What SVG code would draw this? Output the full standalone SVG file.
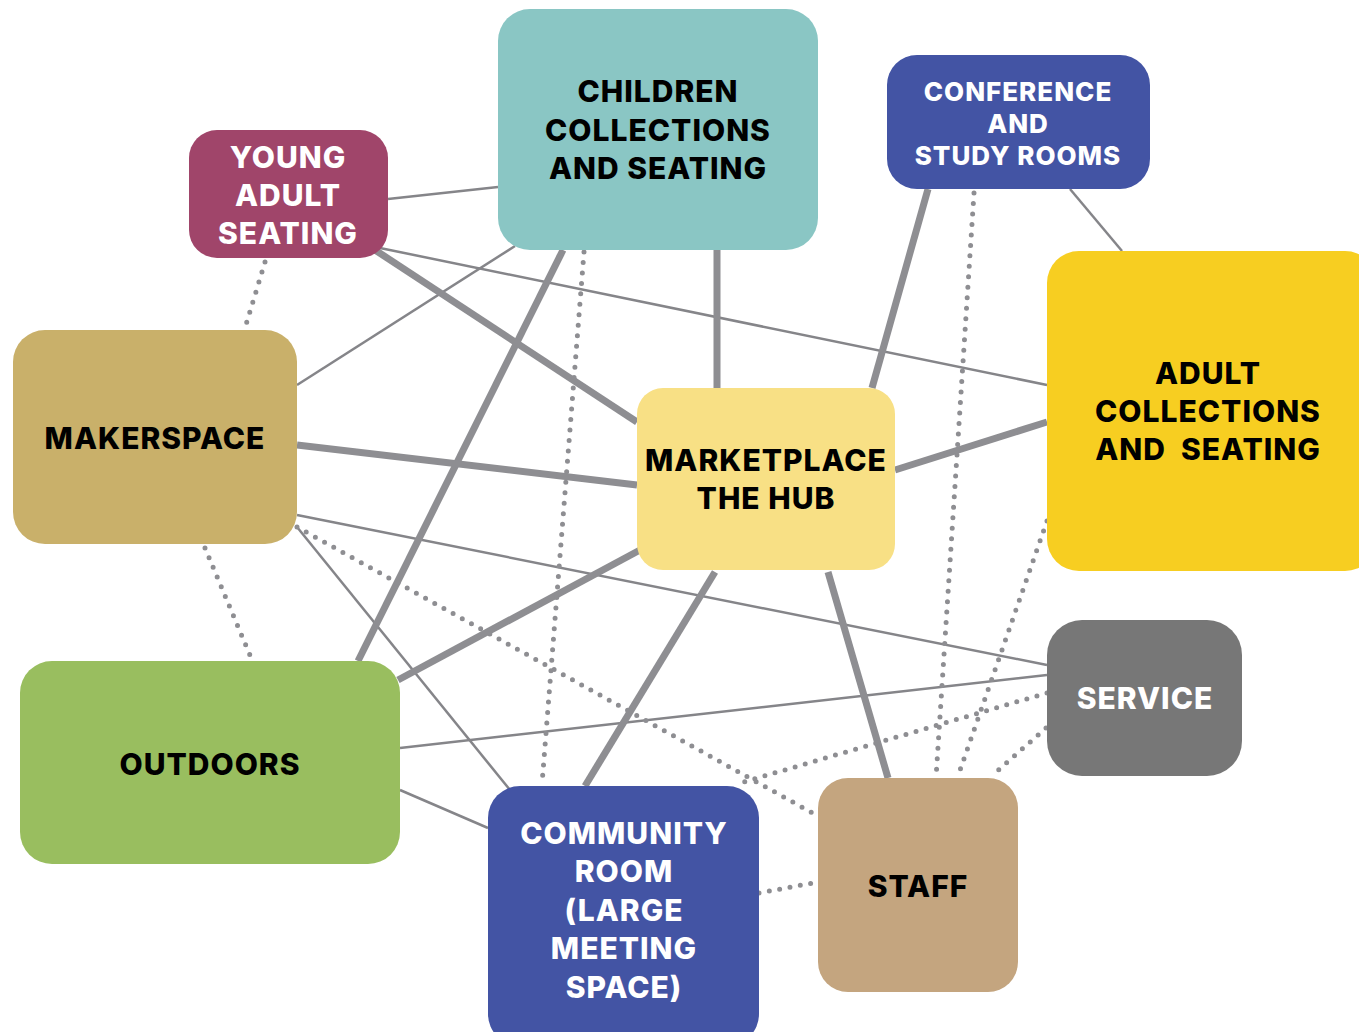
<svg xmlns="http://www.w3.org/2000/svg" width="1359" height="1032" viewBox="0 0 1359 1032">
<style>
.thin{stroke:#858589;stroke-width:2.5;fill:none}
.thick{stroke:#8e8e92;stroke-width:7;fill:none}
.dot{stroke:#8e8e92;stroke-width:5;stroke-linecap:round;stroke-dasharray:0 10.5;fill:none}
text{font-family:Inter,"Liberation Sans",sans-serif;font-weight:800;font-size:30px;text-anchor:middle;letter-spacing:1px}
.w{fill:#ffffff}
.b{fill:#000000}
</style>
<rect width="1359" height="1032" fill="#ffffff"/>
<g id="connectors">
<line class="thin" x1="388" y1="199" x2="498" y2="187"/>
<line class="thin" x1="380" y1="248" x2="1047" y2="385"/>
<line class="thin" x1="515" y1="246" x2="297" y2="385"/>
<line class="thin" x1="1070" y1="189" x2="1122" y2="251"/>
<line class="thin" x1="297" y1="515" x2="1047" y2="665"/>
<line class="thin" x1="297" y1="527" x2="510" y2="790"/>
<line class="thin" x1="400" y1="748" x2="1047" y2="675"/>
<line class="thin" x1="400" y1="790" x2="488" y2="828"/>
<line class="thick" x1="375" y1="250" x2="637" y2="422"/>
<line class="thick" x1="717" y1="250" x2="717" y2="388"/>
<line class="thick" x1="563" y1="250" x2="358" y2="661"/>
<line class="thick" x1="928" y1="189" x2="872" y2="388"/>
<line class="thick" x1="297" y1="445" x2="637" y2="485"/>
<line class="thick" x1="1047" y1="422" x2="895" y2="470"/>
<line class="thick" x1="640" y1="550" x2="398" y2="680"/>
<line class="thick" x1="715" y1="572" x2="585" y2="786"/>
<line class="thick" x1="828" y1="572" x2="888" y2="778"/>
<line class="dot" x1="265" y1="262" x2="245" y2="328"/>
<line class="dot" x1="205" y1="548" x2="252" y2="660"/>
<line class="dot" x1="584" y1="252" x2="542" y2="784"/>
<line class="dot" x1="974" y1="193" x2="936" y2="778"/>
<line class="dot" x1="1047" y1="521" x2="958" y2="776"/>
<line class="dot" x1="297" y1="527" x2="818" y2="816"/>
<line class="dot" x1="1047" y1="693" x2="737" y2="784"/>
<line class="dot" x1="1046" y1="728" x2="995" y2="773"/>
<line class="dot" x1="759" y1="893" x2="818" y2="882"/>
</g>
<g id="young-adult">
<rect x="189" y="130" width="199" height="128" rx="28" fill="#a0456a"/>
<text class="w" x="288" y="168">YOUNG</text>
<text class="w" x="288" y="206">ADULT</text>
<text class="w" x="288" y="244">SEATING</text>
</g>
<g id="children">
<rect x="498" y="9" width="320" height="241" rx="32" fill="#8ac6c4"/>
<text class="b" x="658" y="102">CHILDREN</text>
<text class="b" x="658" y="141">COLLECTIONS</text>
<text class="b" x="658" y="179">AND SEATING</text>
</g>
<g id="conference">
<rect x="887" y="55" width="263" height="134" rx="30" fill="#4354a4"/>
<text class="w" x="1018" y="101" style="font-size:26px">CONFERENCE</text>
<text class="w" x="1018" y="133" style="font-size:26px">AND</text>
<text class="w" x="1018" y="165" style="font-size:26px">STUDY ROOMS</text>
</g>
<g id="adult">
<rect x="1047" y="251" width="330" height="320" rx="32" fill="#f7ce21"/>
<text class="b" x="1208" y="384">ADULT</text>
<text class="b" x="1208" y="422">COLLECTIONS</text>
<text class="b" x="1208" y="460">AND&#160; SEATING</text>
</g>
<g id="makerspace">
<rect x="13" y="330" width="284" height="214" rx="32" fill="#c9b06a"/>
<text class="b" x="155" y="449">MAKERSPACE</text>
</g>
<g id="marketplace">
<rect x="637" y="388" width="258" height="182" rx="26" fill="#f8e085"/>
<text class="b" x="766" y="471">MARKETPLACE</text>
<text class="b" x="766" y="509">THE HUB</text>
</g>
<g id="outdoors">
<rect x="20" y="661" width="380" height="203" rx="32" fill="#99be5f"/>
<text class="b" x="210" y="775">OUTDOORS</text>
</g>
<g id="service">
<rect x="1047" y="620" width="195" height="156" rx="35" fill="#777777"/>
<text class="w" x="1145" y="709">SERVICE</text>
</g>
<g id="community">
<rect x="488" y="786" width="271" height="260" rx="32" fill="#4354a4"/>
<text class="w" x="624" y="844">COMMUNITY</text>
<text class="w" x="624" y="882">ROOM</text>
<text class="w" x="624" y="921">(LARGE</text>
<text class="w" x="624" y="959">MEETING</text>
<text class="w" x="624" y="998">SPACE)</text>
</g>
<g id="staff">
<rect x="818" y="778" width="200" height="214" rx="30" fill="#c4a57f"/>
<text class="b" x="918" y="897">STAFF</text>
</g>
</svg>
